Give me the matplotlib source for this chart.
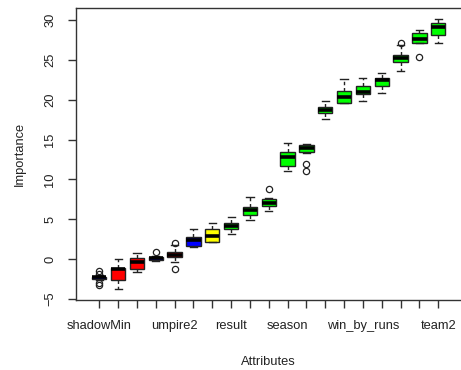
import matplotlib
matplotlib.use("Agg")
import matplotlib.pyplot as plt

plt.rcParams['font.family'] = ['Liberation Sans', 'DejaVu Sans']

# Boruta importance boxes, ordered by median
tick_labels = ['shadowMin', '', '', '', 'umpire2', '', '', 'result', '', '',
               'season', '', '', '', 'win_by_runs', '', '', '', 'team2']
decision = ['shadow', 'rejected', 'rejected', 'shadow', 'rejected', 'shadow',
            'tentative'] + ['confirmed'] * 12

med = [-2.3, -1.3, -0.42, 0.1, 0.5, 2.38, 2.92, 4.18, 6.15, 6.99,
       12.84, 13.89, 18.73, 20.36, 20.99, 22.46, 25.26, 27.6, 29.15]
q1 = [-2.45, -2.63, -1.3, -0.1, 0.29, 1.67, 2.1, 3.8, 5.52, 6.65,
      11.7, 13.43, 18.28, 19.61, 20.67, 21.71, 24.68, 27.14, 28.11]
q3 = [-2.2, -1.17, 0.09, 0.3, 0.92, 2.72, 3.8, 4.48, 6.56, 7.48,
      13.46, 14.27, 19.11, 21.12, 21.74, 22.75, 25.6, 28.32, 29.57]
whis_lo = [-2.6, -3.73, -1.67, -0.25, -0.34, 1.47, 2.1, 3.1, 4.9, 6.02,
           11.04, 13.3, 17.57, 19.54, 19.82, 20.79, 23.63, 27.06, 27.06]
whis_hi = [-2.05, -0.04, 0.79, 0.4, 1.76, 3.8, 4.48, 5.23, 7.74, 7.7,
           14.52, 14.43, 19.82, 22.58, 22.75, 23.3, 26.85, 28.73, 30.07]
outliers = [[-1.47, -1.93, -2.97, -3.3], [], [], [0.84], [2.05, -1.3], [], [], [],
            [], [8.78], [], [11.96, 11.04], [], [], [], [], [27.14], [25.38], []]

colors = {'shadow': '#0000FF', 'rejected': '#FF0000',
          'tentative': '#FFFF00', 'confirmed': '#00FF00'}

stats = []
for i in range(len(med)):
    stats.append(dict(med=med[i], q1=q1[i], q3=q3[i], whislo=whis_lo[i],
                      whishi=whis_hi[i], fliers=outliers[i]))

fig = plt.figure(figsize=(4.61, 3.70), dpi=100)
ax = fig.add_axes([0.164, 0.189, 0.838, 0.789])

positions = list(range(1, len(med) + 1))
bp = ax.bxp(stats, positions=positions, widths=0.76, patch_artist=True,
            boxprops=dict(edgecolor='#222222', linewidth=1.0),
            medianprops=dict(color='black', linewidth=2.6, solid_capstyle='butt'),
            whiskerprops=dict(color='#222222', linewidth=1.0, linestyle=(0, (2.5, 2))),
            capprops=dict(color='#222222', linewidth=1.0),
            flierprops=dict(marker='o', markerfacecolor='none',
                            markeredgecolor='#222222', markersize=4.5,
                            markeredgewidth=0.9),
            capwidths=0.38)
for patch, d in zip(bp['boxes'], decision):
    patch.set_facecolor(colors[d])

ax.set_xlim(-0.26, 20.26)
ax.set_ylim(-5.14, 31.49)
ax.set_yticks([-5, 0, 5, 10, 15, 20, 25, 30])
ax.set_xticks(positions)
ax.set_xticklabels(tick_labels)

for side in ['top', 'right', 'left', 'bottom']:
    ax.spines[side].set_color('#333333')
    ax.spines[side].set_linewidth(1.0)

ax.tick_params(axis='both', direction='out', length=6, width=1.0,
               color='#333333', labelcolor='#222222', labelsize=9.3)
ax.tick_params(axis='x', pad=8)
ax.tick_params(axis='y', pad=8)
for lab in ax.get_yticklabels():
    lab.set_rotation(90)
    lab.set_va('center')

ax.set_xlabel('Attributes', fontsize=9.3, color='#222222')
ax.set_ylabel('Importance', fontsize=9.3, color='#222222')
ax.xaxis.set_label_coords(0.5, -0.19)
ax.yaxis.set_label_coords(-0.128, 0.5)

fig.savefig('out.png', dpi=100)
